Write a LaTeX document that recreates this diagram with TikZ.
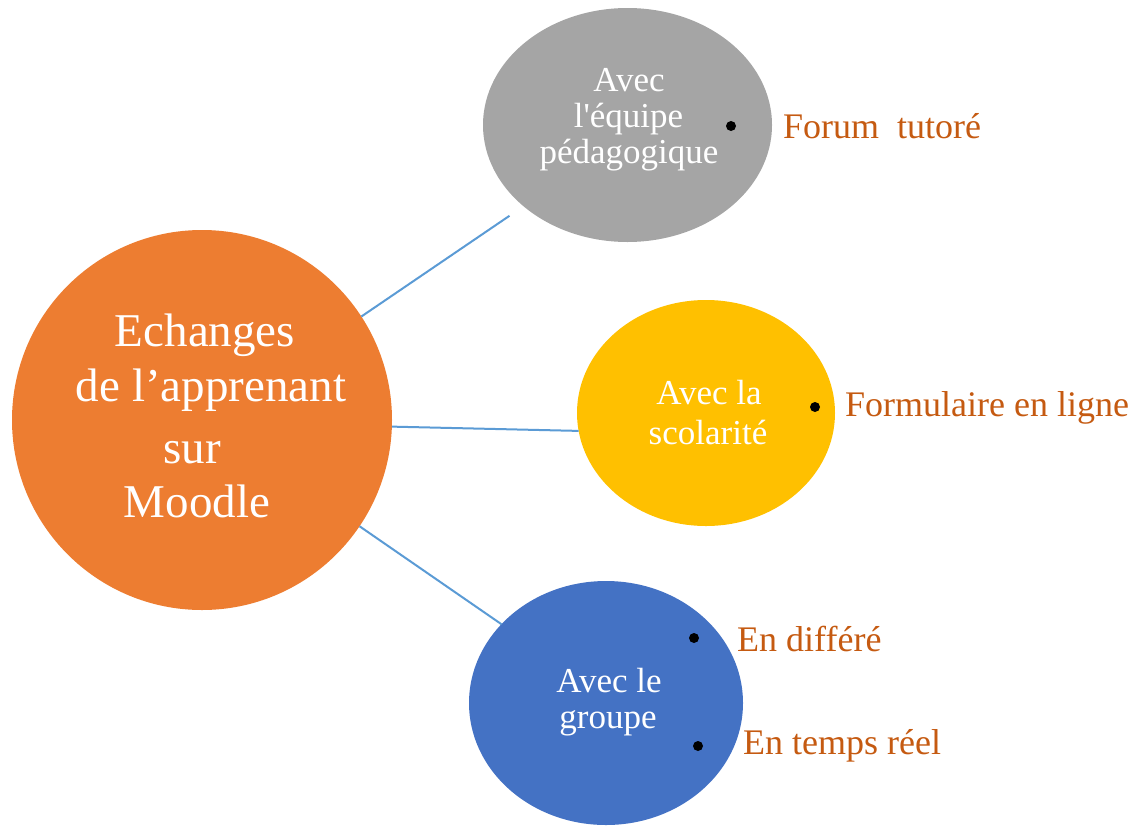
\documentclass[tikz,border=0pt]{standalone}
\usepackage{fontspec}
\setmainfont{Liberation Serif}
\newfontfamily\rawserif{Liberation Serif}[Ligatures=TeXOff]
\usetikzlibrary{shapes.geometric}
\definecolor{cOrange}{HTML}{ED7D31}
\definecolor{cGray}{HTML}{A5A5A5}
\definecolor{cYellow}{HTML}{FFC000}
\definecolor{cBlue}{HTML}{4472C4}
\definecolor{cLine}{HTML}{5B9BD5}
\definecolor{cLabel}{HTML}{C55A11}
\begin{document}
\begin{tikzpicture}[x=1pt,y=-1pt,
  blob/.style={ellipse,inner sep=0pt,outer sep=0pt},
  intext/.style={text=white,font=\fontsize{35}{37}\selectfont,anchor=base,inner sep=0pt},
  maintext/.style={text=white,font=\fontsize{47}{57}\selectfont,anchor=base,inner sep=0pt},
  itemtext/.style={text=cLabel,font=\fontsize{36}{40}\selectfont,anchor=base west,inner sep=0pt},
  dotmark/.style={circle,fill=black,minimum size=10pt,inner sep=0pt},
  link/.style={draw=cLine,line width=2pt}]
\useasboundingbox (0,0) rectangle (1132,825);
\begin{scope}
\clip (0,0) rectangle (1132,825);
\node[circle,inner sep=0pt,outer sep=0pt,fill=cOrange,minimum size=380pt] (main) at (202,420) {};
\node[blob,fill=cGray,minimum width=289pt,minimum height=234pt] (gray) at (627.5,125) {};
\node[blob,fill=cYellow,minimum width=258pt,minimum height=226pt] (yel) at (706,413) {};
\node[blob,fill=cBlue,minimum width=274pt,minimum height=244pt] (blue) at (606,703) {};
\end{scope}
% connectors
\draw[link,shorten >=17pt] (main.33) -- (gray.218);
\draw[link] (main.-2) -- (yel.188);
\draw[link] (main.-34) -- (blue.143);
% main text
\node[maintext] (m1) at (205,346) {Echanges};
\node[maintext] (m2) at (211,401) {de l’apprenant};
\node[maintext] (m3) at (192,463) {sur};
\node[maintext] (m4) at (197,517) {Moodle};
% gray text
\node[intext] (g1) at (629,91) {Avec};
\node[intext] (g2) at (628.5,127) {\rawserif l'équipe};
\node[intext] (g3) at (629,163) {pédagogique};
% yellow text
\node[intext] (y1) at (709,404) {Avec la};
\node[intext] (y2) at (708,444) {scolarité};
% blue text
\node[intext] (b1) at (609,692) {Avec le};
\node[intext] (b2) at (608,728) {groupe};
% bullets and items
\node[dotmark] (d1) at (731,126) {};
\node[itemtext] (i1) at (783,138) {Forum\ \ tutoré};
\node[dotmark] (d2) at (815,407) {};
\node[itemtext] (i2) at (845,416) {Formulaire en ligne};
\node[dotmark] (d3) at (694,638) {};
\node[itemtext] (i3) at (737,651) {En différé};
\node[dotmark] (d4) at (698,746) {};
\node[itemtext] (i4) at (743,754) {En temps réel};
\end{tikzpicture}
\end{document}
